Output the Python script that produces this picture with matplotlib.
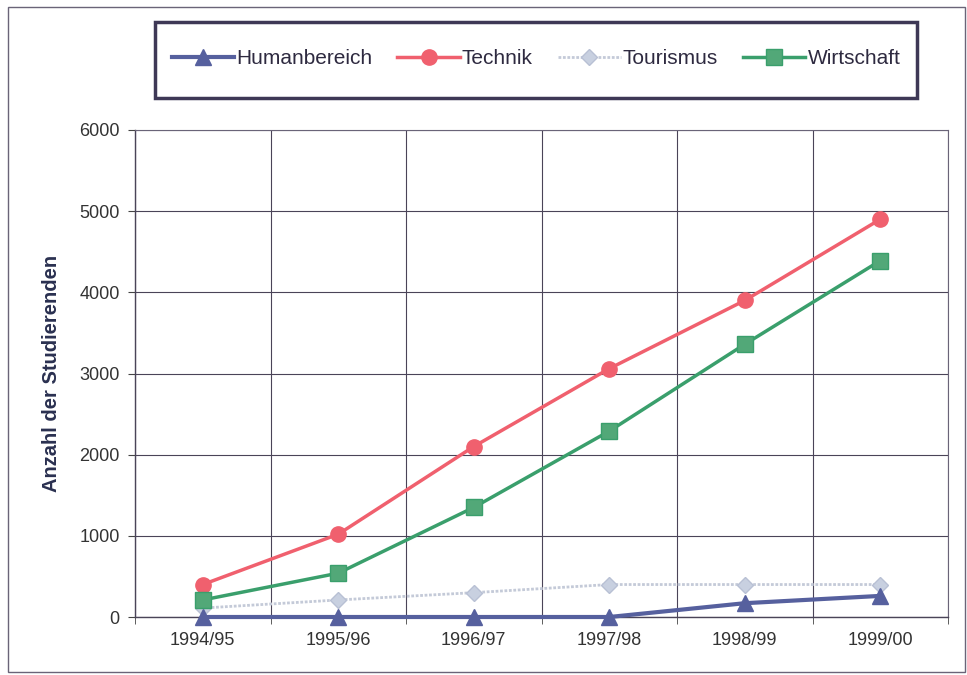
import matplotlib

matplotlib.use("Agg")
import matplotlib.pyplot as plt
from matplotlib.patches import Rectangle

plt.rcParams["font.family"] = ["Liberation Sans", "DejaVu Sans"]

# data
jahre = ["1994/95", "1995/96", "1996/97", "1997/98", "1998/99", "1999/00"]
humanbereich = [0, 0, 0, 0, 170, 260]
technik = [400, 1020, 2100, 3060, 3900, 4900]
tourismus = [110, 210, 300, 400, 400, 400]
wirtschaft = [210, 540, 1350, 2290, 3360, 4390]

W, H = 967, 675
fig = plt.figure(figsize=(W / 100, H / 100), dpi=100)
ax = fig.add_axes([135 / W, 58 / H, 813 / W, 487 / H])

x = list(range(len(jahre)))
ax.plot(x, humanbereich, color="#56609e", lw=3, marker="^", ms=11, label="Humanbereich",
        zorder=5, clip_on=False)
ax.plot(x, technik, color="#f0606e", lw=2.5, marker="o", ms=11, label="Technik", zorder=4)
ax.plot(x, tourismus, color="#c4cad8", lw=2, ls=(0, (1, 0.6)), marker="D", ms=8,
        mfc="#c8d0e0", mec="#b8c0d4", label="Tourismus", zorder=3)
ax.plot(x, wirtschaft, color="#3a9f6c", lw=2.5, marker="s", ms=11, mfc="#52a878",
        label="Wirtschaft", zorder=4)

ax.set_xlim(-0.5, len(jahre) - 0.5)
ax.set_ylim(0, 6000)
ax.set_yticks(range(0, 6001, 1000))
ax.set_xticks(x)
ax.set_xticklabels(jahre)
ax.set_xticks([i - 0.5 for i in range(len(jahre) + 1)], minor=True)
ax.tick_params(axis="x", which="major", length=0, pad=11, labelsize=13, colors="#333333")
ax.tick_params(axis="x", which="minor", length=5, color="#444444")
ax.tick_params(axis="y", length=5, color="#444444", labelsize=13, labelcolor="#333333", pad=6)
ax.grid(True, axis="y", which="major", color="#4a4458", lw=0.8)
ax.grid(True, axis="x", which="minor", color="#4a4458", lw=0.8)
for s in ["top", "right"]:
    ax.spines[s].set_color("#6a6478")
    ax.spines[s].set_linewidth(0.8)
for s in ["left", "bottom"]:
    ax.spines[s].set_color("#4a4458")
    ax.spines[s].set_linewidth(1.0)
ax.set_ylabel("Anzahl der Studierenden", fontsize=14.5, fontweight="bold", color="#2a3050",
              labelpad=13)

# legend box drawn separately so its padding matches the reference
fig.patches.append(Rectangle((155 / W, 1 - 98 / H), 762 / W, 76 / H, transform=fig.transFigure,
                             fill=True, fc="white", ec="#3e3856", lw=2.5, zorder=2))
leg = fig.legend(loc="center", bbox_to_anchor=(536 / W, 1 - 59 / H), ncol=4, fontsize=15,
                 frameon=False, handlelength=3.0, handletextpad=0.1, columnspacing=1.2)
for t in leg.get_texts():
    t.set_color("#2e2a40")

# outer border of the chart
fig.patches.append(Rectangle((0.008, 0.004), 0.99, 0.985, transform=fig.transFigure,
                             fill=False, ec="#6a6478", lw=1.0))

fig.savefig("out.png", dpi=100)
